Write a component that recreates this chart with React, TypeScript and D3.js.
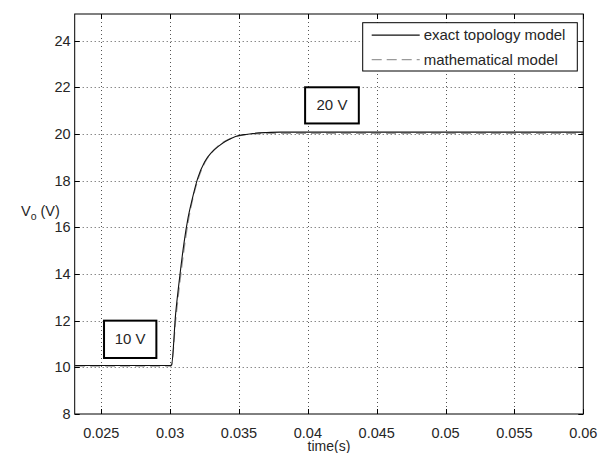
import React, { useEffect, useRef } from 'react';
import * as d3 from 'd3';

// exact topology model (solid)
const exactTime = [0.0231, 0.03, 0.0301, 0.0304, 0.0307, 0.031, 0.0313, 0.0316, 0.032, 0.0325, 0.033, 0.0335, 0.034, 0.0345, 0.035, 0.0355, 0.036, 0.037, 0.038, 0.06];
const exactVolt = [10.08, 10.08, 10.1, 12.3, 13.9, 15.3, 16.4, 17.2, 18.1, 18.8, 19.2, 19.47, 19.68, 19.83, 19.93, 19.98, 20.02, 20.06, 20.08, 20.08];

// mathematical model (dashed)
const mathTime = [0.0231, 0.03, 0.0301, 0.0304, 0.0307, 0.031, 0.0313, 0.0316, 0.032, 0.0325, 0.033, 0.0335, 0.034, 0.0345, 0.035, 0.0355, 0.036, 0.037, 0.06];
const mathVolt = [10.05, 10.05, 10.08, 12.0, 13.6, 15.0, 16.2, 17.1, 18.0, 18.75, 19.2, 19.5, 19.7, 19.83, 19.92, 19.97, 20.0, 20.02, 20.02];

const xTicks = [0.025, 0.03, 0.035, 0.04, 0.045, 0.05, 0.055, 0.06];
const yTicks = [8, 10, 12, 14, 16, 18, 20, 22, 24];

const legendLabels = ['exact topology model', 'mathematical model'];

const notes = [
  { label: '10 V', t0: 0.0252, t1: 0.029, v0: 10.4, v1: 12.0 },
  { label: '20 V', t0: 0.0398, t1: 0.0437, v0: 20.45, v1: 22.0 },
];

const App = () => {
  const ref = useRef<SVGSVGElement>(null);

  useEffect(() => {
    const svg = d3.select(ref.current);
    svg.selectAll('*').remove();

    const left = 74.7, right = 583.3, top = 14, bottom = 414;
    const font = 'Arial, "Liberation Sans", Helvetica, sans-serif';
    const ink = '#262626';

    const x = d3.scaleLinear().domain([0.02307, 0.06]).range([left, right]);
    const y = d3.scaleLinear().domain([8, 25.14]).range([bottom, top]);

    svg.append('rect').attr('width', 599).attr('height', 453).attr('fill', '#fff');

    // grid
    const grid = svg.append('g')
      .attr('stroke', '#555')
      .attr('stroke-width', 1)
      .attr('stroke-dasharray', '1 3');
    grid.selectAll('.gx').data(xTicks.filter(d => d < 0.06)).enter().append('line')
      .attr('x1', d => Math.round(x(d)) + 0.5).attr('x2', d => Math.round(x(d)) + 0.5)
      .attr('y1', top).attr('y2', bottom);
    grid.selectAll('.gy').data(yTicks.filter(d => d > 8)).enter().append('line')
      .attr('y1', d => Math.round(y(d)) + 0.5).attr('y2', d => Math.round(y(d)) + 0.5)
      .attr('x1', left).attr('x2', right);

    // inside ticks on all four sides
    const tl = 5;
    const ticks = svg.append('g').attr('stroke', '#000').attr('stroke-width', 1);
    xTicks.forEach(d => {
      const px = Math.round(x(d)) + 0.5;
      ticks.append('line').attr('x1', px).attr('x2', px).attr('y1', bottom).attr('y2', bottom - tl);
      ticks.append('line').attr('x1', px).attr('x2', px).attr('y1', top).attr('y2', top + tl);
    });
    yTicks.forEach(d => {
      const py = Math.round(y(d)) + 0.5;
      ticks.append('line').attr('y1', py).attr('y2', py).attr('x1', left).attr('x2', left + tl);
      ticks.append('line').attr('y1', py).attr('y2', py).attr('x1', right).attr('x2', right - tl);
    });

    // curves
    const line = d3.line<[number, number]>()
      .x(d => x(d[0]))
      .y(d => y(d[1]))
      .curve(d3.curveMonotoneX);

    const exactData = exactTime.map((t, i) => [t, exactVolt[i]] as [number, number]);
    const mathData = mathTime.map((t, i) => [t, mathVolt[i]] as [number, number]);

    svg.append('path').datum(mathData)
      .attr('fill', 'none').attr('stroke', '#9a9a9a').attr('stroke-width', 1.2)
      .attr('stroke-dasharray', '10 5').attr('d', line);
    svg.append('path').datum(exactData)
      .attr('fill', 'none').attr('stroke', '#111').attr('stroke-width', 1.1)
      .attr('d', line);

    // annotation boxes
    notes.forEach(n => {
      const bx = x(n.t0), by = y(n.v1), bw = x(n.t1) - x(n.t0), bh = y(n.v0) - y(n.v1);
      svg.append('rect').attr('x', bx).attr('y', by).attr('width', bw).attr('height', bh)
        .attr('fill', '#fff').attr('stroke', '#000').attr('stroke-width', 2);
      svg.append('text').attr('x', bx + bw / 2).attr('y', by + bh / 2 + 5)
        .attr('text-anchor', 'middle').attr('font-family', font).attr('font-size', 15)
        .attr('fill', ink).text(n.label);
    });

    // axes box
    svg.append('rect').attr('x', left).attr('y', top).attr('width', right - left).attr('height', bottom - top)
      .attr('fill', 'none').attr('stroke', '#000').attr('stroke-width', 1);

    // tick labels
    svg.selectAll('.xl').data(xTicks).enter().append('text')
      .attr('x', d => x(d)).attr('y', bottom + 24)
      .attr('text-anchor', 'middle').attr('font-family', font).attr('font-size', 14.5).attr('fill', ink)
      .text(d => String(d));
    svg.selectAll('.yl').data(yTicks).enter().append('text')
      .attr('x', left - 4).attr('y', d => y(d) + 5)
      .attr('text-anchor', 'end').attr('font-family', font).attr('font-size', 14.5).attr('fill', ink)
      .text(d => String(d));

    // axis labels
    svg.append('text').attr('x', (left + right) / 2).attr('y', 451)
      .attr('text-anchor', 'middle').attr('font-family', font).attr('font-size', 14).attr('fill', ink)
      .text('time(s)');
    const yl = svg.append('text').attr('x', 21).attr('y', 216)
      .attr('font-family', font).attr('font-size', 14.5).attr('fill', ink);
    yl.append('tspan').text('V');
    yl.append('tspan').attr('dy', 4).attr('font-size', 10.5).text('o');
    yl.append('tspan').attr('dy', -4).text(' (V)');

    // legend
    const lx = 362.7, ly = 22.7, lw = 214.6, lh = 48.3;
    svg.append('rect').attr('x', lx).attr('y', ly).attr('width', lw).attr('height', lh)
      .attr('fill', '#fff').attr('stroke', '#000').attr('stroke-width', 1);
    legendLabels.forEach((lab, i) => {
      const cy = ly + 12.5 + i * 24.5;
      svg.append('line').attr('x1', lx + 9).attr('x2', lx + 57).attr('y1', cy).attr('y2', cy)
        .attr('stroke', i === 0 ? '#111' : '#9a9a9a').attr('stroke-width', 1.2)
        .attr('stroke-dasharray', i === 0 ? null : '10 5');
      svg.append('text').attr('x', lx + 61).attr('y', cy + 5)
        .attr('font-family', font).attr('font-size', 15).attr('fill', ink).text(lab);
    });
  }, []);

  return (
    <svg ref={ref} width={599} height={453}
      style={{ position: 'absolute', left: 0, top: 0, display: 'block' }} />
  );
};

export default App;
